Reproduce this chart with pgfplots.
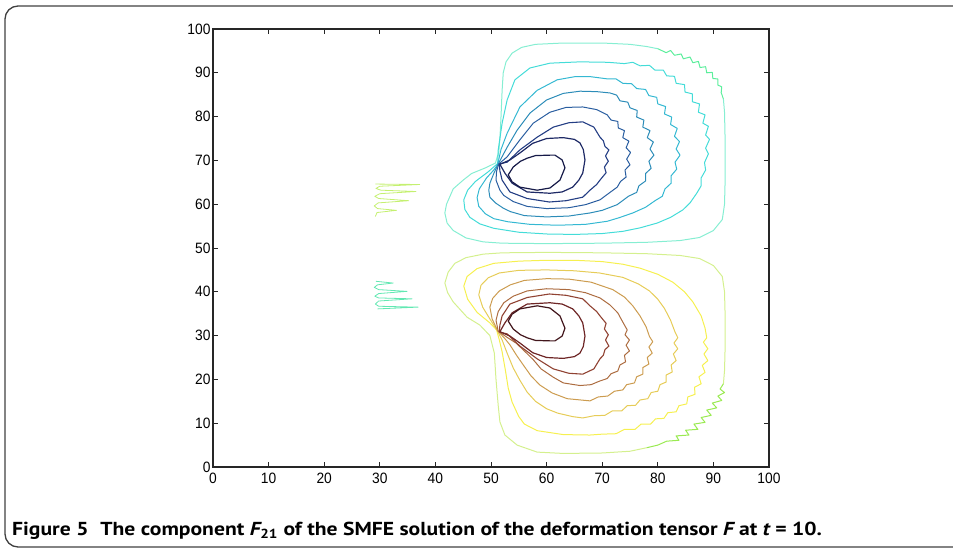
\documentclass[border=0pt]{standalone}
\usepackage{fontspec}
\setmainfont{Liberation Sans}
\newfontfamily\capfont{PT Sans}
\usepackage{graphicx}
\usepackage{pgfplots}
\pgfplotsset{compat=1.18}

% jet-like contour colours (washed out as in the scan)
\definecolor{u1}{HTML}{86EED2}
\definecolor{u1j}{HTML}{5CEE9C}
\definecolor{u2}{HTML}{44DCD8}
\definecolor{u3}{HTML}{34B8D2}
\definecolor{u4}{HTML}{2C8CB8}
\definecolor{u5}{HTML}{2A5EA0}
\definecolor{u6}{HTML}{243E84}
\definecolor{u7}{HTML}{1E2A66}
\definecolor{u8}{HTML}{161A48}
\definecolor{l1}{HTML}{D4F08E}
\definecolor{l1j}{HTML}{9AEA52}
\definecolor{l2}{HTML}{F6F050}
\definecolor{l3}{HTML}{E6CC58}
\definecolor{l4}{HTML}{CC9C50}
\definecolor{l5}{HTML}{AC6C40}
\definecolor{l6}{HTML}{904232}
\definecolor{l7}{HTML}{6E2626}
\definecolor{l8}{HTML}{42161C}
\definecolor{fragU}{HTML}{C4F070}
\definecolor{fragL}{HTML}{62E8B2}

\begin{document}
\begin{tikzpicture}
\path[use as bounding box] (0pt,0pt) rectangle (953pt,-552pt);
\clip (0pt,0pt) rectangle (953pt,-552pt);
\draw[line width=1.3pt, draw=black!75, rounded corners=13pt] (5pt,-6pt) rectangle (1000pt,-547pt);

\begin{axis}[
at={(213pt,-467pt)}, anchor=south west,
scale only axis,
width=556pt, height=438pt,
xmin=0, xmax=100, ymin=0, ymax=100,
xtick={0,10,...,100}, ytick={0,10,...,100},
tick align=inside,
major tick length=5pt,
axis line style={line width=1.2pt, black!85},
every tick/.style={black!85, line width=1pt},
tick label style={font=\fontsize{15}{17}\selectfont},
xticklabel={\scalebox{0.92}[1]{\pgfmathprintnumber[assume math mode=true]{\tick}}},
yticklabel={\scalebox{0.92}[1]{\pgfmathprintnumber[assume math mode=true]{\tick}}},
xticklabel style={yshift=-2pt},
yticklabel style={xshift=1pt},
no markers,
every axis plot/.append style={line width=1pt, line join=round},
]
% ---- upper lobe (negative values) ----
\addplot[u1] coordinates {(91.8,84) (92,81) (92.1,75) (92.1,65) (92,60) (91.6,56.5) (90,54) (87.5,52.4) (84,51.7) (78,51.3) (70,51.1) (60,51) (52,51.1) (48.6,51.4) (45.5,52.3) (43.2,54) (42.1,55.7) (41.7,58) (42,60) (43.2,63.5) (45,65.5) (46.5,67) (49,68.3) (50.8,69.4) (51.4,72) (51.6,75) (51.8,80) (52,86) (52.2,90) (52.7,92.5) (53.8,94.5) (55.5,95.8) (58,96.5) (63,96.8) (70,96.8) (75,96.5) (78,96) (80,95.5)};
\addplot[u1j] coordinates {(80,95.5) (81.5,94.6) (82.3,95.1) (83,94) (84.2,94.3) (84.6,93.2) (85.8,93.6) (86.3,92.3) (87.3,92.6) (87.6,91.2) (88.6,91.4) (88.8,90) (89.8,90.1) (89.9,88.7) (90.8,88.6) (90.8,87.2) (91.5,86.8) (91.4,85.5) (91.8,84)};
\addplot[u2] coordinates {(51.2,69.3) (51.3,72.4) (52,78.5) (52.9,83.8) (54.3,88.4) (57,91.1) (60.6,92.2) (66,92.5) (71,92.4) (74,92.1) (75.5,92.4) (76.8,91.6) (78.5,91.7) (79.5,90.6) (81,90.6) (81.6,89.3) (83,89.2) (83.3,87.6) (84.8,87.3) (84.9,85.6) (86.2,85.2) (86.2,83.4) (87.5,82.9) (87.3,81) (88.5,80.4) (88.1,78.5) (89.1,77.8) (88.6,75.8) (89.3,74.8) (88.6,72.8) (89.1,71.5) (88.4,69.5) (88.6,67.8) (87.8,66) (87.8,64.2) (87,62.5) (85.8,60.3) (84.5,58.7) (82.3,57) (79.9,55.7) (76.8,54.6) (73.7,53.8) (70,53.3) (65,53.1) (60,53.2) (55,53.6) (50.5,54.5) (48,55.5) (46.2,57) (45.3,58.8) (45.1,61) (45.8,63.2) (47.2,65.2) (49.5,67.4) (51.2,69.3)};
\addplot[u3] coordinates {(51.2,69.1) (51.8,72.5) (52.9,76.2) (55.2,82.2) (58.3,86) (61.9,88.4) (65,89.1) (68,89.1) (71,88.6) (72.5,88.6) (73.7,87.6) (75.3,87.5) (76.2,86.4) (77.8,86.2) (78.4,84.8) (79.8,84.4) (80,82.9) (81.4,82.3) (81.2,80.6) (82.5,79.9) (82.3,78.2) (83.5,77.3) (83,75.5) (83.9,74.3) (83.3,72.6) (84,71.2) (83.1,69.6) (83.4,68) (82.4,66.5) (82.4,64.8) (81.3,63.5) (80.8,61.8) (79.5,60.8) (77.8,59.3) (75.5,58) (73,56.9) (70.9,56.1) (67,55.4) (62,55.2) (57,55.4) (53,56) (50.5,56.7) (49,57.8) (47.8,59.5) (47.5,61.5) (47.9,63.5) (49.2,66) (50.5,67.8) (51.2,69.1)};
\addplot[u4] coordinates {(51.3,69.2) (52.9,73) (54.7,76.9) (57,80.8) (60,83.8) (63,85.3) (66,85.8) (69,85.7) (71.4,85.4) (72.6,84.9) (73.2,83.6) (74.6,83.3) (75,82) (76.3,81.4) (76.2,79.9) (77.5,79.2) (77.3,77.6) (78.6,76.8) (78.1,75.2) (79.2,74.2) (78.6,72.6) (79.3,71.2) (78.4,69.8) (78.8,68.2) (77.8,67) (77.8,65.3) (76.6,64.2) (76.2,62.7) (74.7,61.8) (72.7,59.9) (70,58.6) (67.8,58) (64,57.3) (60,57.1) (56,57.4) (53.5,58.3) (52.2,59.1) (50.8,60.3) (49.8,61.6) (49.6,63.2) (49.8,64.8) (50.5,67) (51.3,69.2)};
\addplot[u5] coordinates {(51.4,69.2) (52.9,70.8) (55.2,74.7) (57.6,78.5) (60.6,81) (63.5,82.1) (66.5,82.2) (69,81.6) (70.9,80.4) (71.6,79.2) (72.8,78.9) (72.9,77.4) (74,76.8) (73.7,75.2) (74.8,74.4) (74.3,72.9) (75.1,71.8) (74.4,70.3) (75,69) (74.1,67.8) (74.3,66.2) (73.3,65.2) (72.7,63.9) (71.3,62.6) (69.6,61) (67,59.9) (64,59.2) (60,59) (56.5,59.5) (54,60.6) (52.3,62) (51.6,63.2) (50.9,65.5) (51,67.5) (51.4,69.2)};
\addplot[u6, line width=1.1pt] coordinates {(51.5,69.2) (52.9,69.6) (55.2,72.4) (58.3,75.3) (61.2,77.6) (64,78.6) (66.5,78.8) (68.5,77.6) (69.6,75.3) (70.2,74.5) (70.5,73.2) (71.2,72.4) (70.6,71) (71.1,69.8) (70.4,68.5) (70.7,67.2) (69.6,65.5) (69,64.5) (67.8,63.2) (66.5,61.6) (63.5,60.8) (60.5,60.5) (56.5,61.3) (53.4,62.8) (52,65.5) (51.6,67.6) (51.5,69.2)};
\addplot[u7, line width=1.2pt] coordinates {(51.6,69.1) (53.4,70.1) (55.2,71.7) (57.5,73.9) (60,75) (63,75.2) (65,74.8) (66,74) (66.6,72.5) (66.9,70.1) (66.5,67.1) (65.8,65.5) (64.7,63.9) (62.8,62.8) (60.6,62.5) (56.5,62.8) (53.8,64.8) (52.5,67.1) (51.6,69.1)};
\addplot[u8, line width=1.2pt] coordinates {(56.5,70.5) (58,71.1) (60.6,71.2) (61.5,71.2) (62.8,70.1) (63.3,68.3) (62.4,65.5) (60.6,63.7) (58.3,63.2) (55.2,63.9) (53.8,65.1) (53.1,66.7) (54,68.5) (55.3,69.8) (56.5,70.5)};
% ---- lower lobe (positive values) ----
\addplot[l1] coordinates {(91.8,19) (92,22) (92.1,27) (92.1,35) (92,40) (91.6,43.5) (90,46) (87.5,47.6) (84,48.3) (78,48.7) (70,48.9) (60,49) (52,48.9) (48.6,48.6) (45.5,47.8) (43.5,46.5) (42.3,44.5) (41.7,42) (42.2,39.8) (43.2,37.7) (45.7,34.2) (48,32.4) (49.8,30) (50.6,26) (50.9,20) (51.3,14) (51.6,10.3) (52.5,7.3) (54.7,5) (58.3,3.4) (63,3.1) (70,3.2) (75,3.6) (78,4.4)};
\addplot[l1j] coordinates {(91.8,19) (91.2,17.8) (92,17) (90.8,16.2) (91.5,15.2) (89.8,14.6) (90.6,13.5) (88.8,13) (89.6,11.8) (87.8,11.3) (88.5,10.2) (86.5,9.8) (87.2,8.6) (85,8.4) (85.6,7.3) (83.3,7.1) (83.8,6.1) (81.6,5.9) (80,5) (78,4.4)};
\addplot[l2] coordinates {(51,31.3) (49.8,32.9) (47.5,35.3) (45.8,38.3) (45.1,41.3) (45.7,43.5) (47.5,45.3) (50.5,46.5) (55,47) (60,47.2) (65,47.2) (70,46.9) (73.7,46.3) (76.8,45.4) (80,44) (82.7,42.2) (84.8,40) (86.3,37.7) (87.8,34.5) (88.5,31.7) (88.8,29.5) (88.2,28.5) (89,27) (88.3,25.8) (89,24.3) (88,23.2) (88.5,21.6) (87.4,20.6) (87.8,19) (86.6,18.2) (86.7,16.6) (85.4,16) (85.2,14.4) (83.8,14) (83.3,12.6) (81.8,12.4) (81.1,11.1) (79.6,11) (78.7,9.8) (77,9.8) (75.9,8.6) (74,8.6) (72.5,7.6) (70,7.5) (67.8,7.3) (63,7.4) (58.3,8.3) (56,9.8) (55,11.5) (53.8,14.8) (53.1,18) (52.6,22) (52,26.3) (51.5,29) (51,31.3)};
\addplot[l3] coordinates {(51.1,31.2) (49.8,33.8) (48.5,36.5) (47.8,39.3) (48.2,41.5) (49.5,43.2) (51.5,44.3) (55,44.9) (60,45) (65,44.8) (69.5,44.3) (73.7,43.3) (76.5,41.8) (78.5,40.2) (80,38.3) (81.2,36.2) (82.3,33.5) (83.1,30.8) (83.6,29.5) (82.9,28.3) (83.6,27) (82.8,25.8) (83.3,24.3) (82.4,23.3) (82.6,21.7) (81.5,21) (81.5,19.4) (80.4,18.8) (80,17.3) (78.8,17) (78.2,15.6) (76.8,15.3) (76,14.1) (74.5,14) (73.5,12.8) (71.8,12.8) (70.5,11.8) (68.5,11.7) (66.5,11.2) (64.7,11.5) (62,12.3) (60,13.3) (58,15) (56.5,17.1) (55.2,19.8) (54,22.6) (52.9,26) (52,29) (51.1,31.2)};
\addplot[l4] coordinates {(51.2,31.1) (50.2,33.8) (49.8,36.5) (50.3,38.5) (51.5,40.2) (53.5,41.6) (56,42.6) (60,43) (64,42.9) (68,42.2) (71.9,40.5) (74,38.8) (75.5,36.8) (76.8,34.5) (77.9,32) (78.5,29.8) (79.1,28.6) (78.4,27.4) (79,26) (78.1,25) (78.4,23.5) (77.3,22.7) (77.3,21.2) (76.2,20.6) (75.8,19.2) (74.4,18.8) (73.7,17.6) (72.2,17.3) (71,16.2) (69.3,16) (67.8,15.1) (63.7,15.6) (61,16.9) (58.8,18.7) (57.2,20.8) (55.8,23.3) (54.6,25.5) (53.4,27.9) (52.5,29.3) (51.2,31.1)};
\addplot[l5] coordinates {(51.3,31) (50.9,33.5) (51.3,35.5) (52.3,37.5) (54,39) (56.5,40.2) (60,40.7) (64,40.5) (67,39.8) (69.6,38.6) (71.4,37) (72.8,35.2) (73.7,33.1) (74.5,31.3) (74.1,30.2) (74.9,29) (74.3,27.8) (74.9,26.5) (74,25.5) (74.2,24) (73.2,23.3) (72.8,21.9) (71.6,21.3) (70.9,20.2) (69.5,19.6) (68,18.8) (66,18.6) (63,19.2) (61.2,20.5) (59,22.4) (57.6,24.5) (56,26.5) (54.5,28.3) (52.9,29.6) (51.3,31)};
\addplot[l6, line width=1.1pt] coordinates {(51.5,30.8) (52.9,30.4) (55.2,27.6) (58.3,24.7) (61.2,22.4) (64,21.4) (66.5,21.2) (68.5,22.4) (69.6,24.7) (70.2,25.5) (70.5,26.8) (71.2,27.6) (70.6,29) (71.1,30.2) (70.4,31.5) (70.7,32.8) (69.6,34.5) (69,35.5) (67.8,36.8) (66.5,38.4) (63.5,39.2) (60.5,39.5) (56.5,38.7) (53.4,37.2) (52,34.5) (51.6,32.4) (51.5,30.8)};
\addplot[l7, line width=1.2pt] coordinates {(51.6,30.9) (53.4,29.9) (55.2,28.3) (57.5,26.1) (60,25) (63,24.8) (65,25.2) (66,26) (66.6,27.5) (66.9,29.9) (66.5,32.9) (65.8,34.5) (64.7,36.1) (62.8,37.2) (60.6,37.5) (56.5,37.2) (53.8,35.2) (52.5,32.9) (51.6,30.9)};
\addplot[l8, line width=1.2pt] coordinates {(56.5,29.5) (58,28.9) (60.6,28.8) (61.5,28.8) (62.8,29.9) (63.3,31.7) (62.4,34.5) (60.6,36.3) (58.3,36.8) (55.2,36.1) (53.8,34.9) (53.1,33.3) (54,31.5) (55.3,30.2) (56.5,29.5)};
% ---- small fragments near x = 30 ----
\addplot[fragU, line width=0.8pt] coordinates {(29.2,64.6) (37.2,64.5) (30,64.1) (29.3,63.6) (30.2,63.2) (36.5,62.9) (30,62.4) (29.1,61.8) (29.8,61.3) (35.2,60.8) (29.7,60.3) (29,59.6) (29.6,59) (33,58.6) (29.5,58.1) (29.2,57.2)};
\addplot[fragL, line width=0.8pt] coordinates {(29.3,42.4) (32.4,42) (29.6,41.6) (29,41) (29.8,40.5) (34.9,40.1) (29.8,39.6) (29.1,39) (29.8,38.6) (35.8,38.4) (29.8,37.9) (29.2,37.2) (29.8,36.7) (36.9,36.5) (29.6,36.1)};
\end{axis}

\node[anchor=base west, inner sep=0pt] at (12pt,-535pt)
{\scalebox{1.15}[1]{\capfont\bfseries\fontsize{18.8}{21}\selectfont Figure 5\hspace{0.55em}The component {\itshape F}\textsubscript{21} of the SMFE solution of the deformation tensor {\itshape F} at {\itshape t} = 10.}};
\end{tikzpicture}
\end{document}
